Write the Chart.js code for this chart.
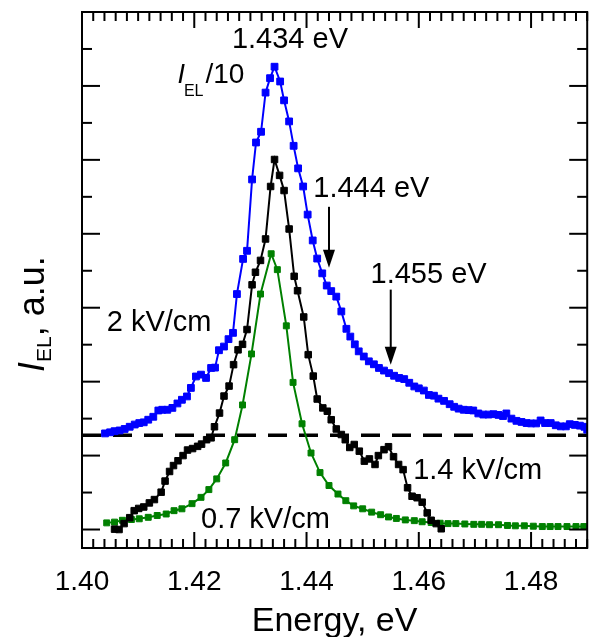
<!DOCTYPE html>
<html>
<head>
<meta charset="utf-8">
<title>EL spectra</title>
<script src="https://cdn.jsdelivr.net/npm/chart.js@4.4.0/dist/chart.umd.min.js"></script>
<style>
    html, body { margin: 0; padding: 0; background: #fff; }
    #wrap { width: 593px; height: 637px; }
</style>
</head>
<body>
<div id="wrap"><canvas id="grafico" width="593" height="637"></canvas></div>
<script>
/* ═══════════════════════════════════════════
   EL spectra at three fields
═══════════════════════════════════════════ */

// ── Data ──────────────────────────────────
// 2 kV/cm (I_EL/10, shifted up)
const blueX = [1.4041,1.4050,1.4058,1.4067,1.4076,1.4085,1.4094,1.4102,1.4110,1.4118,
               1.4127,1.4136,1.4143,1.4152,1.4161,1.4170,1.4178,1.4187,1.4194,1.4203,
               1.4212,1.4221,1.4230,1.4237,1.4244,1.4253,1.4261,1.4269,1.4276,1.4287,
               1.4294,1.4303,1.4310,1.4319,1.4327,1.4335,1.4343,1.4353,1.4360,1.4369,
               1.4377,1.4385,1.4394,1.4402,1.4411,1.4419,1.4428,1.4436,1.4444,1.4453,
               1.4462,1.4471,1.4478,1.4486,1.4493,1.4502,1.4511,1.4520,1.4529,1.4538,
               1.4547,1.4556,1.4565,1.4574,1.4583,1.4592,1.4600,1.4609,1.4618,1.4627,
               1.4635,1.4645,1.4655,1.4663,1.4671,1.4680,1.4689,1.4697,1.4706,1.4715,
               1.4724,1.4733,1.4742,1.4750,1.4756,1.4765,1.4774,1.4783,1.4792,1.4800,
               1.4809,1.4817,1.4825,1.4835,1.4844,1.4853,1.4862,1.4869,1.4878,1.4887,
               1.4895,1.4900];
const blueY = [2.60,2.63,2.66,2.68,2.72,2.78,2.84,2.88,2.90,2.97,
               3.05,3.22,3.24,3.24,3.29,3.41,3.51,3.60,3.83,4.14,
               4.19,4.10,4.37,4.38,4.85,4.95,5.15,5.32,6.37,7.32,
               7.54,9.47,10.47,10.76,11.82,12.21,12.52,12.12,11.61,11.04,
               10.38,9.77,9.28,8.52,7.82,7.33,6.93,6.60,6.45,6.30,
               5.90,5.43,5.22,5.01,4.82,4.68,4.55,4.47,4.37,4.30,
               4.23,4.16,4.10,4.07,3.97,3.87,3.82,3.76,3.64,3.62,
               3.54,3.48,3.39,3.32,3.27,3.24,3.23,3.22,3.14,3.11,
               3.11,3.12,3.10,3.07,3.14,3.00,2.94,2.91,2.88,2.87,
               2.87,2.95,2.88,2.88,2.82,2.79,2.79,2.85,2.83,2.81,
               2.78,2.70];

// 1.4 kV/cm
const blackX = [1.4058,1.4066,1.4075,1.4085,1.4093,1.4101,1.4110,1.4120,1.4129,1.4141,
                1.4148,1.4156,1.4163,1.4171,1.4180,1.4188,1.4197,1.4206,1.4213,1.4222,
                1.4230,1.4236,1.4245,1.4253,1.4262,1.4270,1.4278,1.4286,1.4294,1.4303,
                1.4309,1.4318,1.4327,1.4336,1.4343,1.4352,1.4360,1.4369,1.4378,1.4384,
                1.4395,1.4403,1.4412,1.4419,1.4429,1.4437,1.4444,1.4453,1.4462,1.4469,
                1.4477,1.4485,1.4494,1.4503,1.4512,1.4522,1.4528,1.4538,1.4546,1.4555,
                1.4564,1.4572,1.4580,1.4588,1.4597,1.4606,1.4615,1.4622,1.4631,1.4640];
const blackY = [0.01,0.00,0.16,0.32,0.51,0.57,0.61,0.72,0.81,1.01,
                1.31,1.57,1.73,1.86,2.00,2.15,2.19,2.25,2.31,2.43,
                2.48,2.78,3.15,3.61,3.88,4.46,4.86,5.01,5.41,6.62,
                6.96,7.28,7.86,9.28,10.01,9.58,9.17,8.13,6.85,6.46,
                5.75,4.73,4.15,3.53,3.29,3.20,2.97,2.72,2.57,2.43,
                2.22,2.30,2.12,1.85,1.91,1.76,2.00,2.16,2.24,1.97,
                1.76,1.62,1.13,0.90,0.86,0.74,0.45,0.25,0.16,0.02];

// 0.7 kV/cm
const greenX = [1.4044,1.4058,1.4072,1.4088,1.4102,1.4118,1.4134,1.4150,1.4164,1.4178,
                1.4196,1.4212,1.4226,1.4240,1.4256,1.4272,1.4286,1.4302,1.4318,1.4337,
                1.4348,1.4364,1.4376,1.4392,1.4408,1.4424,1.4440,1.4456,1.4470,1.4484,
                1.4500,1.4516,1.4532,1.4546,1.4560,1.4576,1.4592,1.4606,1.4622,1.4638,
                1.4652,1.4666,1.4682,1.4698,1.4712,1.4726,1.4742,1.4758,1.4772,1.4788,
                1.4804,1.4820,1.4834,1.4848,1.4864,1.4880,1.4894];
const greenY = [0.18,0.20,0.25,0.27,0.29,0.33,0.38,0.42,0.51,0.56,
                0.70,0.87,1.08,1.37,1.80,2.43,3.37,4.75,6.37,7.46,
                7.03,5.51,3.98,2.86,2.07,1.54,1.19,0.96,0.78,0.64,
                0.56,0.47,0.40,0.34,0.30,0.26,0.24,0.21,0.19,0.17,
                0.16,0.16,0.15,0.14,0.14,0.13,0.13,0.11,0.10,0.10,
                0.09,0.08,0.08,0.08,0.08,0.08,0.08];

// offset level of the 2 kV/cm curve
const offsetLevel = 2.55;

// axes
const xTicks     = [1.40, 1.42, 1.44, 1.46, 1.48];
const xRange     = [1.40, 1.49];
const xMinorStep = 0.002;
const yRange     = [-0.5, 14];
const yTickVals  = [0,1,2,3,4,5,6,7,8,9,10,11,12,13];

// peak markers and labels (data coords)
const arrows = [
    { x: 1.444, from: 8.73, to: 7.08 },
    { x: 1.455, from: 6.49, to: 4.46 }
];
const notes = [
    { text: '1.434 eV',  x: 1.4267, y: 13.03 },
    { text: '1.444 eV',  x: 1.4412, y: 9.00 },
    { text: '1.455 eV',  x: 1.4514, y: 6.68 },
    { text: '2 kV/cm',   x: 1.4044, y: 5.38 },
    { text: '1.4 kV/cm', x: 1.4590, y: 1.38 },
    { text: '0.7 kV/cm', x: 1.4212, y: 0.05 }
];
const scaleNote = { x: 1.4170, y: 12.08 };   // "I_EL/10"

const FONT = '"Liberation Sans", Arial, Helvetica, sans-serif';

// ── Helpers ──────────────────────────────────
function pares(xs, ys) {
    return xs.map((x, i) => ({ x, y: ys[i] }));
}

function serie(label, xs, ys, color, r) {
    return {
        label,
        data: pares(xs, ys),
        borderColor: color,
        backgroundColor: color,
        borderWidth: 2,
        pointStyle: 'rect',
        pointRadius: r,
        pointBorderWidth: 1,
        pointBackgroundColor: color,
        pointBorderColor: color,
        tension: 0
    };
}

// ── Frame, ticks and text ────────────────────
const marco = {
    id: 'marco',
    afterDraw(chart) {
        const { ctx, chartArea: a, scales: { x, y } } = chart;
        ctx.save();
        ctx.strokeStyle = '#000';
        ctx.fillStyle = '#000';
        ctx.lineWidth = 2;

        const seg = (x1, y1, x2, y2) => {
            ctx.beginPath(); ctx.moveTo(x1, y1); ctx.lineTo(x2, y2); ctx.stroke();
        };

        // x ticks, bottom and top, inward
        const nMinor = Math.round((xRange[1] - xRange[0]) / xMinorStep);
        for (let i = 0; i <= nMinor; i++) {
            const px = x.getPixelForValue(xRange[0] + i * xMinorStep);
            const len = (i % 10 === 0) ? 16 : 9;
            seg(px, a.bottom, px, a.bottom - len);
            seg(px, a.top, px, a.top + len);
        }
        // y ticks, left and right, inward
        yTickVals.forEach(v => {
            const py = y.getPixelForValue(v);
            const len = (v % 2 === 0) ? 18 : 10;
            seg(a.left, py, a.left + len, py);
            seg(a.right, py, a.right - len, py);
        });

        ctx.strokeRect(a.left, a.top, a.right - a.left, a.bottom - a.top);

        // arrows
        arrows.forEach(ar => {
            const px = x.getPixelForValue(ar.x);
            const y1 = y.getPixelForValue(ar.from);
            const y2 = y.getPixelForValue(ar.to);
            seg(px, y1, px, y2 - 16);
            ctx.beginPath();
            ctx.moveTo(px - 6, y2 - 18);
            ctx.lineTo(px + 6, y2 - 18);
            ctx.lineTo(px, y2);
            ctx.closePath();
            ctx.fill();
        });

        // labels
        ctx.textBaseline = 'alphabetic';
        ctx.textAlign = 'left';
        ctx.font = '29px ' + FONT;
        notes.forEach(n => {
            ctx.fillText(n.text, x.getPixelForValue(n.x), y.getPixelForValue(n.y));
        });

        // I_EL/10
        let sx = x.getPixelForValue(scaleNote.x);
        const sy = y.getPixelForValue(scaleNote.y);
        ctx.font = 'italic 27px ' + FONT;
        ctx.fillText('I', sx, sy);
        sx += ctx.measureText('I').width;
        ctx.font = '16px ' + FONT;
        ctx.fillText('EL', sx - 1, sy + 13);
        sx += ctx.measureText('EL').width + 1;
        ctx.font = '28px ' + FONT;
        ctx.fillText('/10', sx, sy);

        // x title
        ctx.textAlign = 'center';
        ctx.font = '34px ' + FONT;
        ctx.fillText('Energy, eV', (a.left + a.right) / 2, 631);

        // y title, rotated
        ctx.save();
        ctx.translate(44, 372);
        ctx.rotate(-Math.PI / 2);
        ctx.textAlign = 'left';
        let tx = 0;
        ctx.font = 'italic 36px ' + FONT;
        ctx.fillText('I', tx, 0);
        tx += ctx.measureText('I').width;
        ctx.font = '21px ' + FONT;
        ctx.fillText('EL', tx, 7);
        tx += ctx.measureText('EL').width;
        ctx.font = '36px ' + FONT;
        ctx.fillText(', a.u.', tx, 0);
        ctx.restore();

        ctx.restore();
    }
};

// ── Chart ────────────────────────────────────
const ctx = document.getElementById('grafico').getContext('2d');

new Chart(ctx, {
    type: 'line',
    data: {
        datasets: [
            {
                label: 'offset',
                data: pares(xRange, [offsetLevel, offsetLevel]),
                borderColor: '#000',
                borderWidth: 3.5,
                borderDash: [19, 12],
                pointRadius: 0,
                order: 4
            },
            serie('2 kV/cm',   blueX,  blueY,  '#0000ff', 4.8),
            serie('1.4 kV/cm', blackX, blackY, '#000000', 4.6),
            serie('0.7 kV/cm', greenX, greenY, '#008000', 4.2)
        ]
    },
    options: {
        responsive: false,
        animation: false,
        layout: { padding: { left: 82, right: 1, top: 12, bottom: 0 } },
        plugins: {
            legend:  { display: false },
            tooltip: { enabled: false }
        },
        scales: {
            x: {
                type: 'linear',
                min: xRange[0],
                max: xRange[1],
                grid:   { display: false, drawTicks: false },
                border: { display: false },
                afterBuildTicks: s => { s.ticks = xTicks.map(v => ({ value: v })); },
                afterFit: s => { s.height = 89; },
                ticks: {
                    color: '#000',
                    padding: 17,
                    maxRotation: 0,
                    autoSkip: false,
                    font: { size: 28, family: FONT },
                    callback: v => Number(v).toFixed(2)
                }
            },
            y: {
                type: 'linear',
                min: yRange[0],
                max: yRange[1],
                display: false
            }
        }
    },
    plugins: [marco]
});
</script>
</body>
</html>
